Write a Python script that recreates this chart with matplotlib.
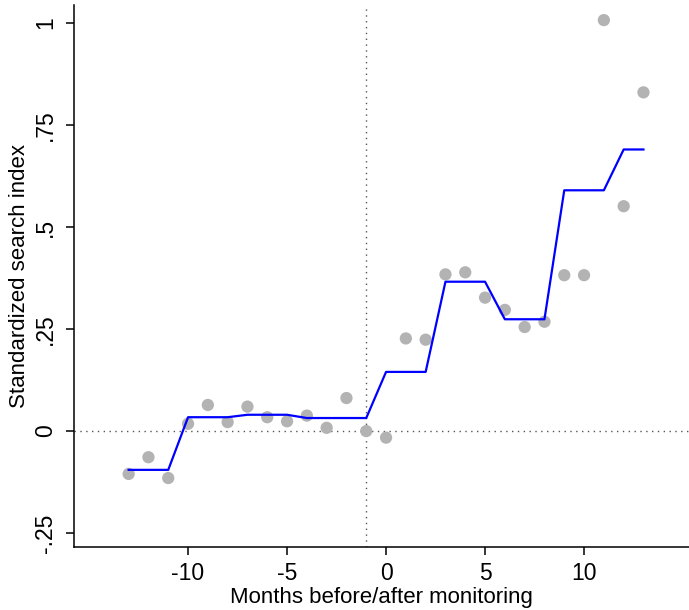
import matplotlib
matplotlib.use("Agg")
import matplotlib.pyplot as plt

plt.rcParams['font.family'] = ['Liberation Sans', 'DejaVu Sans']

months = list(range(-13, 14))
search_index = [-0.105, -0.064, -0.115, 0.018, 0.064, 0.022, 0.060, 0.034, 0.024,
                0.038, 0.008, 0.081, 0.000, -0.016, 0.227, 0.224, 0.384, 0.389,
                0.327, 0.297, 0.255, 0.268, 0.382, 0.382, 1.007, 0.551, 0.830]
quarter_mean = [-0.095, -0.095, -0.095, 0.034, 0.034, 0.034, 0.040, 0.040, 0.040,
                0.032, 0.032, 0.032, 0.032, 0.145, 0.145, 0.145, 0.366, 0.366,
                0.366, 0.274, 0.274, 0.274, 0.590, 0.590, 0.590, 0.690, 0.690]
xticks = [-10, -5, 0, 5, 10]
yticks = [-0.25, 0, 0.25, 0.5, 0.75, 1]
yticklabels = ['-.25', '0', '.25', '.5', '.75', '1']

fig = plt.figure(figsize=(6.89, 6.10), dpi=100)
ax = fig.add_axes([74/689, 63/610, 1 - 74/689, (547 - 5)/610])

ax.axhline(0, color='#555555', lw=1.0, ls=(0, (1, 3.2)), zorder=1)
ax.axvline(-1, color='#555555', lw=1.0, ls=(0, (1, 3.2)), zorder=1)

ax.scatter(months, search_index, s=78, color='#b3b3b3', edgecolors='none', zorder=2)
ax.plot(months, quarter_mean, color='#0000ff', lw=1.6, zorder=3)

ax.set_xlim(-15.76, 15.3)
ax.set_ylim(-0.284, 1.044)

ax.set_xticks(xticks)
ax.set_xticklabels([str(v) for v in xticks])
ax.set_yticks(yticks)
ax.set_yticklabels(yticklabels, rotation=90, va='center')

for side in ['top', 'right']:
    ax.spines[side].set_visible(False)
for side in ['left', 'bottom']:
    ax.spines[side].set_linewidth(1.1)

ax.tick_params(axis='both', length=6, width=1.1, labelsize=16.5, color='black')
ax.tick_params(axis='y', pad=6)
ax.tick_params(axis='x', pad=5)

ax.set_xlabel('Months before/after monitoring', fontsize=16, labelpad=1)
ax.set_ylabel('Standardized search index', fontsize=16, labelpad=3)

fig.savefig('out.png', dpi=100)
